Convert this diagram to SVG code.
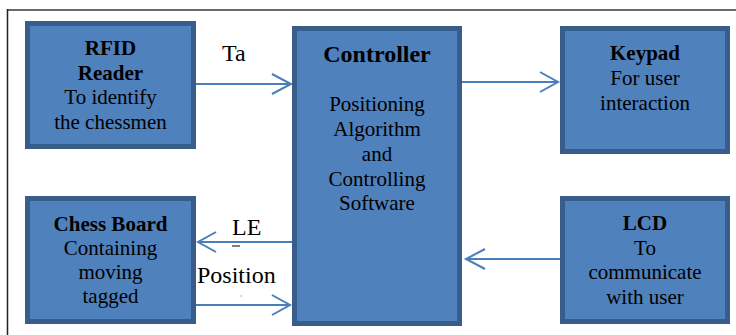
<svg xmlns="http://www.w3.org/2000/svg" width="736" height="335" viewBox="0 0 736 335" font-family="'Liberation Serif', 'DejaVu Serif', serif">
<style>
.box{fill:#4f81bd;stroke:#385d8a;stroke-width:5}
text{font-family:'Liberation Serif','DejaVu Serif',serif}
.t{font-size:21px;fill:#000;text-anchor:middle}
.b{font-weight:bold}
.lbl{font-size:24px;fill:#000}
.c{stroke:#4a7ebb;stroke-width:2;fill:none}
</style>
<rect width="736" height="335" fill="#fff"/>
<line x1="7" y1="10" x2="736" y2="10" stroke="#6a6a6a" stroke-width="2"/>
<line x1="7.5" y1="9" x2="7.5" y2="335" stroke="#222" stroke-width="1.5"/>
<g id="connectors">
<path class="c" d="M196 84H291M272 74L291 84L272 94"/>
<path class="c" d="M462 82H558M540 72L558 82L540 92"/>
<path class="c" d="M560 259H466M485 249L466 259L485 269"/>
<path class="c" d="M292 242H198M216 232L198 242L216 252"/>
<path class="c" d="M196 305H290M272 295L290 305L272 315"/>
<text class="lbl" x="222" y="61">Ta</text>
<text class="lbl" x="232" y="235">LE</text>
<line x1="232" y1="246" x2="240" y2="246" stroke="#000" stroke-width="1"/>
<text class="lbl" x="197" y="283">Position</text>
<rect x="240.5" y="295.5" width="1" height="1" fill="#666"/>
</g>
<g id="rfid">
<rect class="box" x="27.5" y="23.5" width="166" height="123"/>
<text class="t b" x="110.5" y="55">RFID</text>
<text class="t b" x="110.5" y="80">Reader</text>
<text class="t" x="110.5" y="104">To identify</text>
<text class="t" x="110.5" y="129">the chessmen</text>
</g>
<g id="chessboard">
<rect class="box" x="27.5" y="198.5" width="166" height="123"/>
<text class="t b" x="110.5" y="231">Chess Board</text>
<text class="t" x="110.5" y="255">Containing</text>
<text class="t" x="110.5" y="279">moving</text>
<text class="t" x="110.5" y="303">tagged</text>
</g>
<g id="controller">
<rect class="box" x="294.5" y="28.5" width="165" height="295"/>
<text class="t b" x="377" y="62" style="font-size:24px">Controller</text>
<text class="t" x="377" y="111">Positioning</text>
<text class="t" x="377" y="136">Algorithm</text>
<text class="t" x="377" y="161">and</text>
<text class="t" x="377" y="186">Controlling</text>
<text class="t" x="377" y="210">Software</text>
</g>
<g id="keypad">
<rect class="box" x="562.5" y="28.5" width="165" height="123"/>
<text class="t b" x="645" y="60">Keypad</text>
<text class="t" x="645" y="85">For user</text>
<text class="t" x="645" y="110">interaction</text>
</g>
<g id="lcd">
<rect class="box" x="562.5" y="198.5" width="165" height="123"/>
<text class="t b" x="645" y="230">LCD</text>
<text class="t" x="645" y="255">To</text>
<text class="t" x="645" y="279">communicate</text>
<text class="t" x="645" y="304">with user</text>
</g>
</svg>
